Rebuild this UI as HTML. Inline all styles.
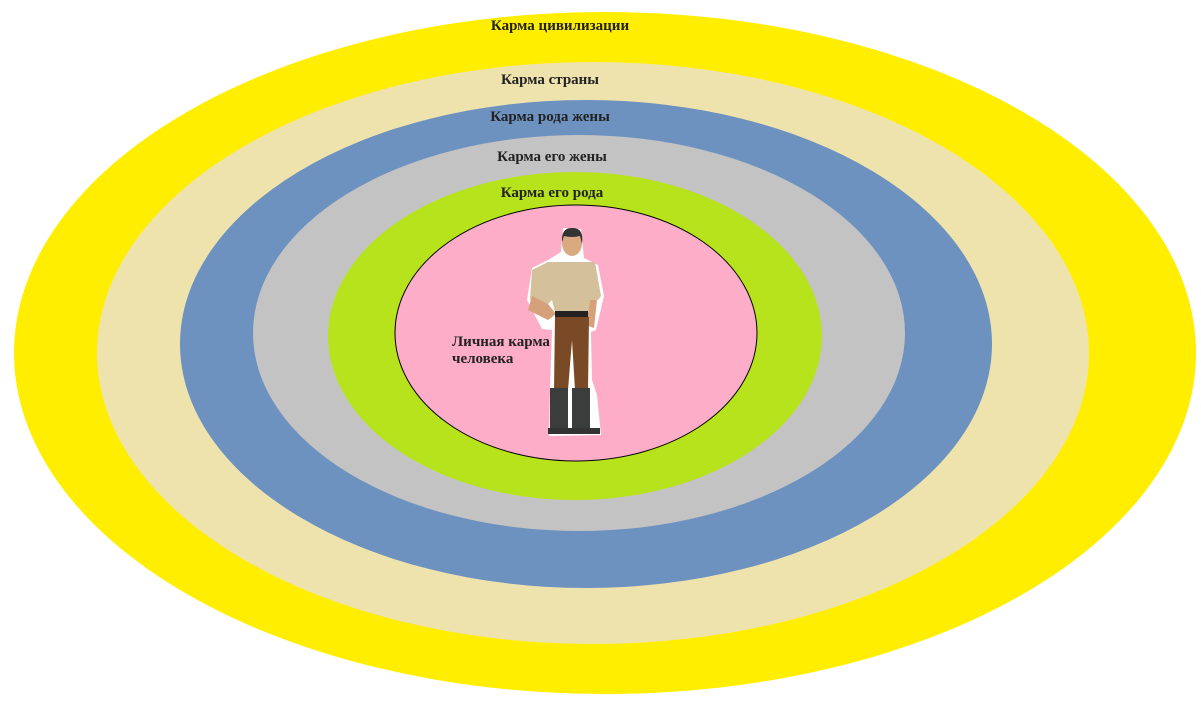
<!DOCTYPE html>
<html><head><meta charset="utf-8"><style>
html,body{margin:0;padding:0;background:#fff;width:1201px;height:719px;overflow:hidden}
text{font-family:"Liberation Serif",serif;font-weight:bold;font-size:15px;fill:#222}
</style></head><body>
<svg width="1201" height="719" viewBox="0 0 1201 719">
<ellipse cx="605" cy="353" rx="591" ry="341" fill="#ffee00"/>
<ellipse cx="593" cy="353" rx="496" ry="291" fill="#efe3ad"/>
<ellipse cx="586" cy="344" rx="406" ry="244" fill="#6d92bf"/>
<ellipse cx="579" cy="333" rx="326" ry="198" fill="#c3c3c3"/>
<ellipse cx="575" cy="336" rx="247" ry="164" fill="#b7e31c"/>
<ellipse cx="576" cy="333" rx="181" ry="128" fill="#fdadc7" stroke="#000" stroke-width="1"/>
<text x="560" y="30" text-anchor="middle" font-size="16">Карма цивилизации</text>
<text x="550" y="84" text-anchor="middle">Карма  страны</text>
<text x="550" y="121" text-anchor="middle">Карма рода жены</text>
<text x="552" y="161" text-anchor="middle">Карма его жены</text>
<text x="552" y="197" text-anchor="middle">Карма его рода</text>
<text x="452" y="346">Личная карма</text>
<text x="452" y="363">человека</text>
<g>
<path d="M563 228 L581 229 L584 258 L598 265 L604 296 L596 330 L591 332 L592 380 L597 395 L601 435 L549 436 L550 388 L552 330 L542 329 L527 300 L532 268 L548 260 L561 252 Z" fill="#fff"/>
<ellipse cx="572" cy="243" rx="10" ry="13" fill="#d9a980"/>
<path d="M562 242 Q561 227 573 228 Q584 228 582 244 L580 236 Q572 238 564 236 Z" fill="#333"/>
<path d="M548 262 L595 262 L601 296 L598 300 L590 300 L588 312 L555 312 L552 300 L546 306 L530 300 L532 270 Z" fill="#d4c09a"/>
<path d="M532 296 L528 310 L548 320 L556 314 L548 304 Z" fill="#d4a17a"/>
<path d="M590 300 L597 300 L594 328 L586 325 Z" fill="#d4a17a"/>
<rect x="555" y="311" width="33" height="6" fill="#222"/>
<path d="M555 317 L589 317 L588 390 L575 390 L572 340 L568 390 L554 390 Z" fill="#7a4a26"/>
<rect x="550" y="388" width="18" height="46" fill="#3a3d3c"/>
<rect x="572" y="388" width="18" height="46" fill="#3a3d3c"/>
<rect x="548" y="428" width="22" height="6" fill="#333"/>
<rect x="570" y="428" width="30" height="6" fill="#333"/>
</g>
</svg>
</body></html>
